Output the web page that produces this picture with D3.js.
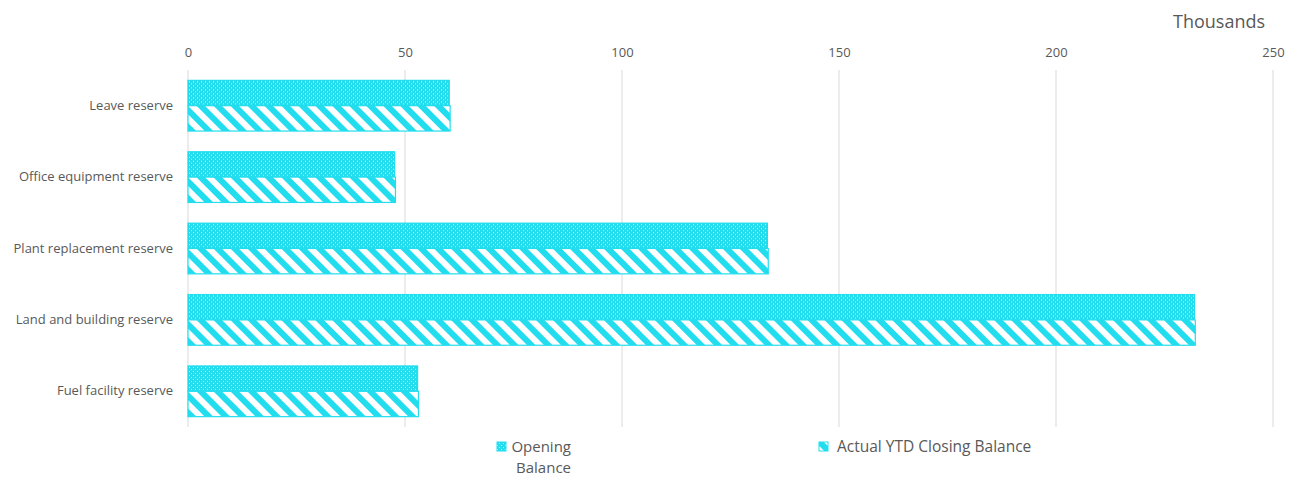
<!DOCTYPE html>
<html>
<head>
<meta charset="utf-8">
<script src="https://cdn.jsdelivr.net/npm/d3@7"></script>
<style>
  body { margin: 0; background: #fff; }
  text { font-family: "Open Sans", "Liberation Sans", sans-serif; fill: #595959; }
</style>
</head>
<body>
<div id="chart"></div>
<script>
// Data
const categories = ["Leave reserve", "Office equipment reserve", "Plant replacement reserve", "Land and building reserve", "Fuel facility reserve"];
const openingBalance = [60200, 47600, 133500, 231900, 52900];
const closingBalance = [60400, 47800, 133700, 232100, 53100];
const seriesNames = ["Opening Balance", "Actual YTD Closing Balance"];
const xTicks = [0, 50000, 100000, 150000, 200000, 250000];

const W = 1292, H = 477;
const margin = { top: 70, right: 19, bottom: 50, left: 188 };
const width = W - margin.left - margin.right,
      height = H - margin.top - margin.bottom;

const cyan = "#22DDEE";

const svg = d3.select("#chart").append("svg")
    .attr("width", W)
    .attr("height", H);

// Patterns
const defs = svg.append("defs");
const p1 = defs.append("pattern")
    .attr("id", "pOpen")
    .attr("patternUnits", "userSpaceOnUse")
    .attr("width", 4).attr("height", 4);
p1.append("rect").attr("width", 4).attr("height", 4).attr("fill", cyan);
p1.append("rect").attr("x", 1).attr("y", 1).attr("width", 1).attr("height", 1).attr("fill", "#fff");
p1.append("rect").attr("x", 3).attr("y", 3).attr("width", 1).attr("height", 1).attr("fill", "#bff6fb");

const p2 = defs.append("pattern")
    .attr("id", "pClose")
    .attr("patternUnits", "userSpaceOnUse")
    .attr("width", 12).attr("height", 12)
    .attr("patternTransform", "rotate(-45)");
p2.append("rect").attr("width", 12).attr("height", 12).attr("fill", "#fff");
p2.append("rect").attr("width", 6).attr("height", 12).attr("fill", cyan);

const fills = ["url(#pOpen)", "url(#pClose)"];

const g = svg.append("g")
    .attr("transform", `translate(${margin.left},${margin.top})`);

// Scales
const x = d3.scaleLinear().domain([0, 250000]).range([0, width]);
const y0 = d3.scaleBand().domain(categories).range([0, height]).paddingInner(0.29).paddingOuter(0.145);
const y1 = d3.scaleBand().domain([0, 1]).range([0, y0.bandwidth()]);

// Grid
g.append("g")
    .selectAll("line")
    .data(xTicks)
    .join("line")
    .attr("x1", d => x(d)).attr("x2", d => x(d))
    .attr("y1", 0).attr("y2", height)
    .attr("stroke", "#d9d9d9")
    .attr("stroke-width", 1);

// Top axis
const xAxis = g.append("g")
    .call(d3.axisTop(x).tickValues(xTicks).tickFormat(d => d / 1000).tickSize(0).tickPadding(13));
xAxis.select(".domain").remove();
xAxis.selectAll("text").style("font-size", "13px").attr("fill", "#595959");

// Left axis
const yAxis = g.append("g")
    .call(d3.axisLeft(y0).tickSize(0).tickPadding(15));
yAxis.select(".domain").remove();
yAxis.selectAll("text").style("font-size", "13px").attr("fill", "#595959");

// Bars
const rows = categories.map((c, i) => ({ cat: c, vals: [openingBalance[i], closingBalance[i]] }));
const groups = g.selectAll("g.row")
    .data(rows)
    .join("g")
    .attr("class", "row")
    .attr("transform", d => `translate(0,${y0(d.cat)})`);

groups.selectAll("rect")
    .data(d => d.vals.map((v, k) => ({ k, v })))
    .join("rect")
    .attr("x", x(0))
    .attr("y", d => y1(d.k))
    .attr("width", d => x(d.v) - x(0))
    .attr("height", y1.bandwidth())
    .attr("fill", d => fills[d.k])
    .attr("stroke", cyan)
    .attr("stroke-width", 1.2);

// Units label
svg.append("text")
    .attr("x", 1219).attr("y", 28)
    .attr("text-anchor", "middle")
    .style("font-size", "18px")
    .text("Thousands");

// Legend
const legend = svg.append("g");

// Opening Balance (wrapped on two lines, right aligned)
legend.append("rect")
    .attr("x", 497).attr("y", 442)
    .attr("width", 9).attr("height", 9)
    .attr("fill", fills[0])
    .attr("stroke", cyan);
["Opening", "Balance"].forEach((s, j) => {
  legend.append("text")
    .attr("x", 571).attr("y", 452 + j * 21)
    .attr("text-anchor", "end")
    .style("font-size", "15px")
    .text(s);
});

// Actual YTD Closing Balance
legend.append("rect")
    .attr("x", 819).attr("y", 442)
    .attr("width", 9).attr("height", 9)
    .attr("fill", fills[1])
    .attr("stroke", cyan);
legend.append("text")
    .attr("x", 837).attr("y", 452)
    .style("font-size", "15.5px")
    .text(seriesNames[1]);
</script>
</body>
</html>
